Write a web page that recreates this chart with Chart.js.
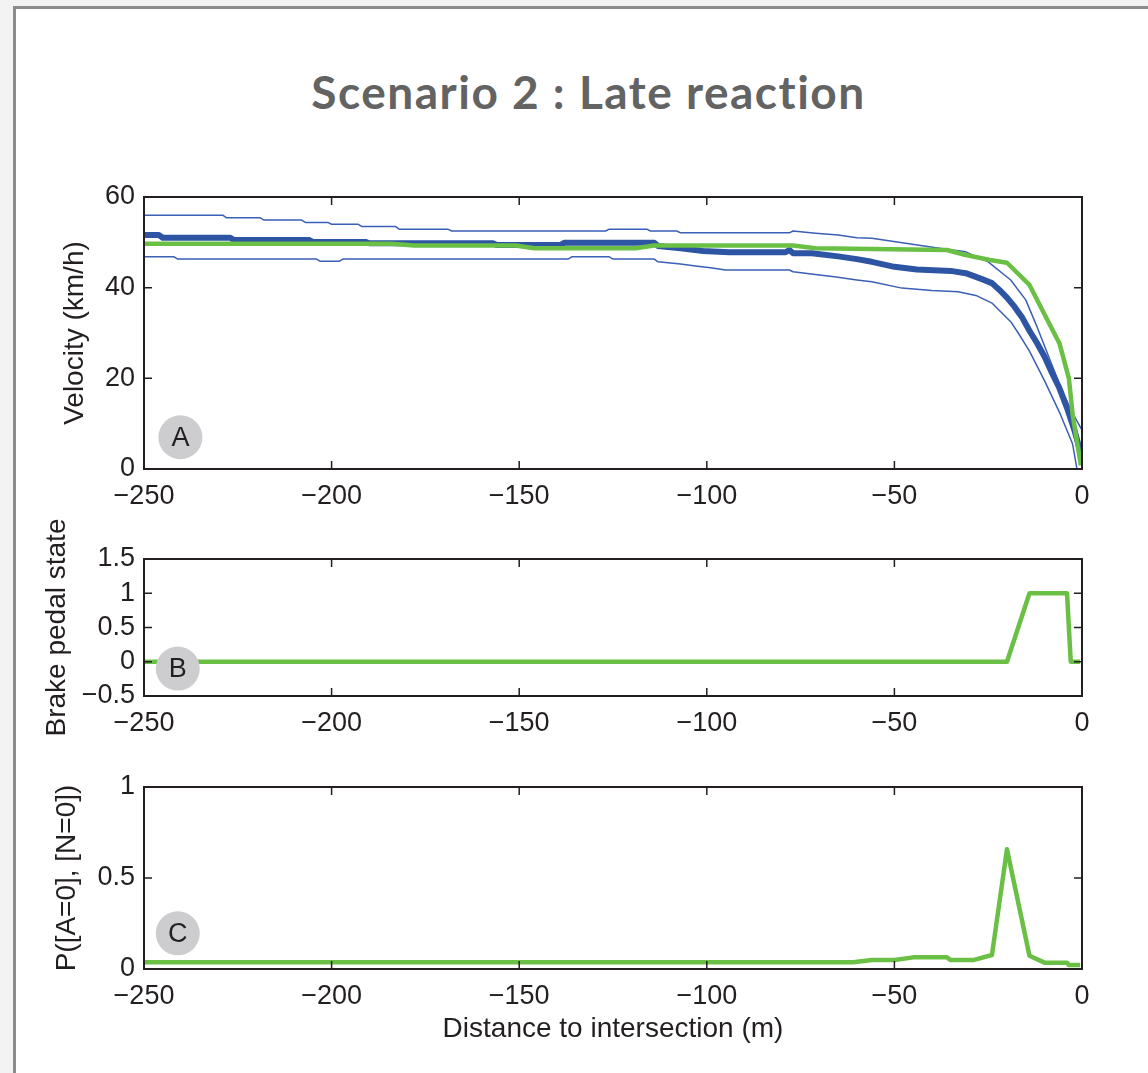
<!DOCTYPE html>
<html>
<head>
<meta charset="utf-8">
<script src="https://cdn.jsdelivr.net/npm/chart.js@4.4.1/dist/chart.umd.min.js"></script>
<style>
    body { margin: 0; background: #f3f3f3; width: 1148px; height: 1073px; overflow: hidden; position: relative; }
    #frame { position: absolute; left: 13px; top: 6px; width: 1200px; height: 1200px; background: #fff;
             border-left: 3px solid #8c8c8c; border-top: 3px solid #8c8c8c; }
    #title { position: absolute; left: 0; top: 69px; width: 1177px; text-align: center;
             font: bold 46px Lato, "Open Sans", sans-serif; line-height: 46px; letter-spacing: 1.5px; color: #636363; }
    canvas { position: absolute; left: 0; }
</style>
</head>
<body>
<div id="frame"></div>
<div id="title">Scenario 2 : Late reaction</div>
<canvas id="velChart" width="1148" height="360" style="top:160px"></canvas>
<canvas id="brakeChart" width="1148" height="240" style="top:500px"></canvas>
<canvas id="probChart" width="1148" height="286" style="top:760px"></canvas>

<script>
// tick values
const distTicks = [-250, -200, -150, -100, -50, 0];
const velTicks = [0, 20, 40, 60];
const brakeTicks = [-0.5, 0, 0.5, 1, 1.5];
const probTicks = [0, 0.5, 1];

// A: velocity, mean of drivers (thick blue) and the two bounds (thin blue)
const meanDist = [-250, -246, -245, -227, -226, -206, -205, -191, -190, -157, -156, -139, -138, -114, -113, -107, -101, -94, -79, -78, -77, -72, -65, -60, -56, -50, -44, -38, -35, -31, -27, -24, -22, -20, -18, -16, -14, -12, -10, -8, -6, -4, -3, -2, -1, 0];
const meanVel = [51.6, 51.6, 51.0, 51.0, 50.5, 50.5, 50.1, 50.1, 49.8, 49.8, 49.4, 49.4, 49.9, 49.9, 49.2, 48.7, 48.1, 47.8, 47.8, 48.3, 47.6, 47.6, 46.9, 46.3, 45.7, 44.6, 44.0, 43.8, 43.7, 43.2, 42.0, 41.0, 39.5, 37.8, 35.8, 33.5, 30.5, 27.8, 24.8, 21.2, 17.8, 13.5, 11.0, 8.5, 5.5, 2.0];

const upperDist = [-250, -229, -228, -219, -218, -208, -207, -201, -200, -193, -192, -183, -182, -169, -168, -127, -126, -116, -115, -108, -107, -78, -77, -71, -65, -60, -56, -47, -38, -31, -25, -19, -15, -12, -8.5, -5, -2.5, 0];
const upperVel = [56.0, 56.0, 55.4, 55.4, 54.9, 54.9, 54.4, 54.4, 54.0, 54.0, 53.5, 53.5, 52.9, 52.9, 52.5, 52.5, 52.9, 52.9, 52.5, 52.5, 52.1, 52.1, 52.5, 52.0, 51.6, 51.0, 50.9, 49.8, 48.7, 47.9, 45.7, 41.7, 37.3, 31.4, 24.0, 16.7, 12.3, 8.6];

const lowerDist = [-250, -242, -241, -204, -203, -198, -197, -137, -136, -126, -125, -114, -113, -107, -103, -99, -95, -78, -77, -70, -66, -60, -56, -48, -40, -33, -28, -24, -19, -17, -14, -10, -6, -2.5, -1.3];
const lowerVel = [46.8, 46.8, 46.3, 46.3, 45.8, 45.8, 46.3, 46.3, 46.8, 46.8, 46.3, 46.3, 45.7, 45.2, 44.8, 44.4, 43.9, 43.9, 43.5, 42.8, 42.4, 41.7, 41.3, 39.9, 39.4, 39.1, 38.2, 36.6, 32.5, 30.0, 26.0, 19.5, 12.5, 5.5, -0.2];

// model velocity (green)
const modelDist = [-250, -184, -178, -151, -146, -119, -114, -77, -71, -36, -31, -24.5, -20, -14, -6, -3.5, -2.5, -0.3];
const modelVel = [49.7, 49.7, 49.3, 49.3, 48.7, 48.7, 49.3, 49.3, 48.7, 48.3, 47.2, 46.1, 45.5, 40.6, 27.7, 20.0, 12.0, 0.8];

// B: brake pedal
const brakeDist = [-250, -20, -14, -4, -3, -0.5];
const brakeState = [0, 0, 1, 1, 0, 0];

// C: probability
const probDist = [-250, -61, -56, -50, -45, -36, -35, -29, -24, -20, -14, -10, -4, -3.5, -0.5];
const probVal = [0.037, 0.037, 0.049, 0.049, 0.064, 0.064, 0.049, 0.049, 0.077, 0.658, 0.073, 0.035, 0.035, 0.022, 0.022];

const INK = '#231f20';
const BLUE = '#2e54a4';
const THIN = '#3b5fb6';
const GREEN = '#6abf45';
const AXIS_FONT = { family: '"Liberation Sans", Arial, sans-serif', size: 27 };
const LABEL_FONT = { family: '"Liberation Sans", Arial, sans-serif', size: 28 };

const pts = (xs, ys) => xs.map((d, i) => ({ x: d, y: ys[i] }));
const fmt = v => String(v).replace('-', '\u2212');

// matlab style box with inward ticks + the lettered badge
const boxPlugin = {
    id: 'matlabBox',
    afterDatasetsDraw(chart, args, opts) {
        const { ctx, chartArea: a, scales: { x, y } } = chart;
        const len = 8;
        ctx.save();
        ctx.strokeStyle = INK;
        ctx.lineWidth = 1.5;
        ctx.beginPath();
        x.ticks.forEach(t => {
            const px = x.getPixelForValue(t.value);
            ctx.moveTo(px, a.bottom); ctx.lineTo(px, a.bottom - len);
            ctx.moveTo(px, a.top); ctx.lineTo(px, a.top + len);
        });
        y.ticks.forEach(t => {
            const py = y.getPixelForValue(t.value);
            ctx.moveTo(a.left, py); ctx.lineTo(a.left + len, py);
            ctx.moveTo(a.right, py); ctx.lineTo(a.right - len, py);
        });
        ctx.stroke();
        ctx.lineWidth = 2;
        ctx.strokeRect(a.left, a.top, a.width, a.height);

        if (opts.badge) {
            const bx = x.getPixelForValue(opts.badge.x);
            const by = y.getPixelForValue(opts.badge.y);
            ctx.fillStyle = '#cdcdcf';
            ctx.beginPath();
            ctx.arc(bx, by, 22, 0, Math.PI * 2);
            ctx.fill();
            ctx.fillStyle = INK;
            ctx.font = '27px "Liberation Sans", Arial, sans-serif';
            ctx.textAlign = 'center';
            ctx.textBaseline = 'middle';
            ctx.fillText(opts.badge.text, bx, by + 1);
        }
        ctx.restore();
    }
};

function makePanel(id, p) {
    return new Chart(document.getElementById(id), {
        type: 'line',
        data: { datasets: p.datasets },
        options: {
            responsive: false,
            animation: false,
            devicePixelRatio: 1,
            layout: { padding: { top: p.padTop, left: p.padLeft, right: 66, bottom: 0 } },
            elements: { point: { radius: 0 }, line: { tension: 0, borderJoinStyle: 'round' } },
            plugins: {
                legend: { display: false },
                tooltip: { enabled: false },
                matlabBox: { badge: p.badge }
            },
            scales: {
                x: {
                    type: 'linear', min: -250, max: 0,
                    grid: { display: false, drawTicks: false }, border: { display: false },
                    afterBuildTicks: s => { s.ticks = distTicks.map(v => ({ value: v })); },
                    afterFit: s => { s.height = p.xHeight; },
                    ticks: { color: INK, font: AXIS_FONT, padding: 11, autoSkip: false, maxRotation: 0, callback: fmt },
                    title: { display: !!p.xTitle, text: p.xTitle || '', color: INK, font: LABEL_FONT, padding: 0 }
                },
                y: {
                    min: p.yMin, max: p.yMax,
                    grid: { display: false, drawTicks: false }, border: { display: false },
                    afterBuildTicks: s => { s.ticks = p.yTicks.map(v => ({ value: v })); },
                    afterFit: s => { s.width = 144 - p.padLeft; },
                    ticks: { color: INK, font: AXIS_FONT, padding: 9, autoSkip: false, callback: fmt },
                    title: { display: true, text: p.yTitle, color: INK, font: LABEL_FONT, padding: 0 }
                }
            }
        },
        plugins: [boxPlugin]
    });
}

makePanel('velChart', {
    padTop: 37, padLeft: 58, xHeight: 51,
    yMin: 0, yMax: 60, yTicks: velTicks, yTitle: 'Velocity (km/h)',
    badge: { x: -240.3, y: 7.0, text: 'A' },
    datasets: [
        { data: pts(modelDist, modelVel), borderColor: GREEN, borderWidth: 4.5, order: 0 },
        { data: pts(meanDist, meanVel), borderColor: BLUE, borderWidth: 6, order: 1 },
        { data: pts(upperDist, upperVel), borderColor: THIN, borderWidth: 1.5, order: 2 },
        { data: pts(lowerDist, lowerVel), borderColor: THIN, borderWidth: 1.5, order: 2 }
    ]
});

makePanel('brakeChart', {
    padTop: 59, padLeft: 40, xHeight: 44,
    yMin: -0.5, yMax: 1.5, yTicks: brakeTicks, yTitle: 'Brake pedal state',
    badge: { x: -241, y: -0.1, text: 'B' },
    datasets: [
        { data: pts(brakeDist, brakeState), borderColor: GREEN, borderWidth: 4.5 }
    ]
});

makePanel('probChart', {
    padTop: 27, padLeft: 50, xHeight: 77,
    yMin: 0, yMax: 1, yTicks: probTicks, yTitle: 'P([A=0], [N=0])',
    xTitle: 'Distance to intersection (m)',
    badge: { x: -241, y: 0.196, text: 'C' },
    datasets: [
        { data: pts(probDist, probVal), borderColor: GREEN, borderWidth: 4.5 }
    ]
});
</script>
</body>
</html>
